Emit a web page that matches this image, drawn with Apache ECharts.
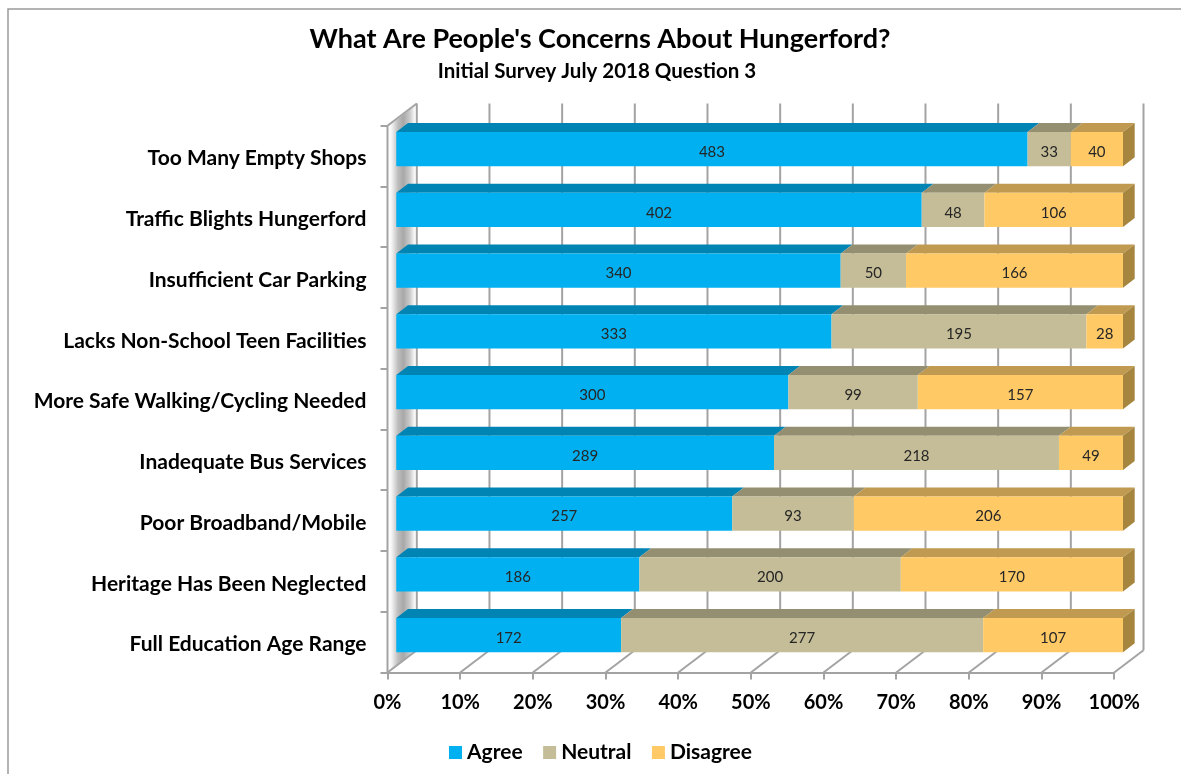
<!DOCTYPE html>
<html>
<head>
<meta charset="utf-8">
<script src="https://cdn.jsdelivr.net/npm/echarts@6/dist/echarts.min.js"></script>
<style>html,body{margin:0;padding:0;background:#fff}#c{width:1181px;height:774px}</style>
</head>
<body>
<div id="c"></div>
<script>
const categories = ['Too Many Empty Shops','Traffic Blights Hungerford','Insufficient Car Parking','Lacks Non-School Teen Facilities','More Safe Walking/Cycling Needed','Inadequate Bus Services','Poor Broadband/Mobile','Heritage Has Been Neglected','Full Education Age Range'];
const agree = [483,402,340,333,300,289,257,186,172];
const neutral = [33,48,50,195,99,218,93,200,277];
const disagree = [40,106,166,28,157,49,206,170,107];
const percentTicks = [0,10,20,30,40,50,60,70,80,90,100];

const FONT = 'Lato';
const WALL = [29.3,-22.2], BAR_OFF = [8.8,-7], BAR_DEPTH = [11.7,-9];
const AXIS_C = '#a3a3a3';
const BAR_H = 34.4;
const G = {left:387.5, top:125.7, width:726.7, height:546.8};
const stacks = [
  {name:'Agree', values:agree, front:'#00B0F0', top:'#0084B4'},
  {name:'Neutral', values:neutral, front:'#C4BD97', top:'#958F71'},
  {name:'Disagree', values:disagree, front:'#FFC966', top:'#BF9A50', side:'#A6853F'}
];
const totals = categories.map((_,i)=>agree[i]+neutral[i]+disagree[i]);
const pct = (v,i)=>v/totals[i]*100;

function wallLines(params, api){
  const cs = params.coordSys, v = api.value(0);
  const x = api.coord([v,0])[0], yb = cs.y+cs.height, yt = cs.y;
  const st = {stroke:AXIS_C, lineWidth:2};
  const kids = [
    {type:'line', shape:{x1:x,y1:yb,x2:x+WALL[0],y2:yb+WALL[1]}, style:st},
    {type:'line', shape:{x1:x+WALL[0],y1:yb+WALL[1],x2:x+WALL[0],y2:yt+WALL[1]}, style:st}
  ];
  if(v===0) kids.push({type:'line', shape:{x1:x,y1:yt,x2:x+WALL[0],y2:yt+WALL[1]}, style:st},
                      {type:'line', shape:{x1:x,y1:yb,x2:x,y2:yt}, style:st});
  return {type:'group', children:kids};
}
function sideWall(params, api){
  const cs = params.coordSys, x = api.coord([0,0])[0]+1.5, yb = cs.y+cs.height-1, yt = cs.y;
  const d = WALL[0]-3, dy = WALL[1]*d/WALL[0];
  return {type:'polygon', shape:{points:[[x,yt],[x+d,yt+dy],[x+d,yb+dy],[x,yb]]},
    style:{fill:new echarts.graphic.LinearGradient(0,0,1,0,[
      {offset:0,color:'#ffffff'},{offset:0.1,color:'#f4f4f4'},{offset:0.35,color:'#bcbcbc'},{offset:0.55,color:'#a8a8a8'},{offset:0.8,color:'#cccccc'},{offset:1,color:'#ffffff'}])}};
}
function faces(stack){
  return function(params, api){
    const i = api.value(2), s = api.value(0), e = api.value(1);
    const a = api.coord([s,i]), b = api.coord([e,i]);
    const y = a[1]-BAR_H/2, dx = BAR_DEPTH[0], dy = BAR_DEPTH[1];
    const kids = [{type:'polygon', shape:{points:[[a[0],y],[b[0],y],[b[0]+dx,y+dy],[a[0]+dx,y+dy]]}, style:{fill:stack.top}}];
    if(stack.side) kids.push({type:'polygon', shape:{points:[[b[0],y],[b[0]+dx,y+dy],[b[0]+dx,y+dy+BAR_H],[b[0],y+BAR_H]]}, style:{fill:stack.side}});
    return {type:'group', children:kids};
  };
}

const chart = echarts.init(document.getElementById('c'), null, {renderer:'canvas'});
let acc = categories.map(()=>0);
const faceSeries = stacks.map(st=>{
  const data = categories.map((_,i)=>{ const s=acc[i]; acc[i]+=pct(st.values[i],i); return [s,acc[i],i]; });
  return {type:'custom', xAxisIndex:1, yAxisIndex:1, z:3, clip:false, silent:true, renderItem:faces(st),
          encode:{x:[0,1], y:2}, data};
});
chart.setOption({
  animation:false,
  backgroundColor:'#ffffff',
  textStyle:{fontFamily:FONT},
  title:[
    {text:"What Are People's Concerns About Hungerford?", left:595, top:21, textAlign:'center',
     textStyle:{fontFamily:FONT,fontWeight:'bold',fontSize:27,color:'#000'}},
    {text:'Initial Survey July 2018 Question 3', left:592, top:56, textAlign:'center',
     textStyle:{fontFamily:FONT,fontWeight:'bold',fontSize:20.5,color:'#000'}}
  ],
  legend:{data:stacks.map(s=>s.name), left:444, top:737, icon:'rect', itemWidth:13, itemHeight:13, itemGap:20.5,
    textStyle:{fontFamily:FONT,fontWeight:'bold',fontSize:21,color:'#000'}},
  graphic:[{type:'rect', shape:{x:8,y:9,width:1400,height:1000}, style:{fill:'none',stroke:'#9a9a9a',lineWidth:1.5}, z:-10, silent:true}],
  grid:[
    {left:G.left, top:G.top, width:G.width, height:G.height},
    {left:G.left+BAR_OFF[0], top:G.top+BAR_OFF[1], width:G.width, height:G.height}
  ],
  xAxis:[
    {type:'value', gridIndex:0, min:0, max:100, interval:10, position:'bottom',
     axisLine:{show:true,lineStyle:{color:AXIS_C,width:2}}, axisTick:{show:true,length:7,lineStyle:{color:AXIS_C,width:2}}, splitLine:{show:false},
     axisLabel:{formatter:'{value}%',margin:20,fontFamily:FONT,fontWeight:'bold',fontSize:20,color:'#000',showMinLabel:true,showMaxLabel:true,customValues:percentTicks}},
    {type:'value', gridIndex:1, min:0, max:100, interval:10, show:false}
  ],
  yAxis:[
    {type:'category', gridIndex:0, data:categories, inverse:true,
     axisLine:{show:false}, axisTick:{show:true,length:7,lineStyle:{color:AXIS_C,width:2}}, splitLine:{show:false},
     axisLabel:{margin:21,fontFamily:FONT,fontWeight:'bold',fontSize:21,color:'#000',verticalAlign:'top',lineHeight:5}},
    {type:'category', gridIndex:1, data:categories, inverse:true, show:false}
  ],
  series:[
    {type:'custom', name:'wall', xAxisIndex:0, yAxisIndex:0, z:1, clip:false, silent:true, renderItem:sideWall, encode:{x:0}, data:[[0]]},
    {type:'custom', name:'gridlines', xAxisIndex:0, yAxisIndex:0, z:2, clip:false, silent:true, renderItem:wallLines, encode:{x:0}, data:percentTicks.map(v=>[v])},
    ...faceSeries,
    ...stacks.map(st=>({
      type:'bar', name:st.name, stack:'total', xAxisIndex:1, yAxisIndex:1, barWidth:BAR_H, z:4,
      itemStyle:{color:st.front},
      label:{show:true, position:'inside', offset:[0,3], fontFamily:FONT, fontSize:15, color:'#262626',
             formatter:p=>String(st.values[p.dataIndex])},
      data:st.values.map((v,i)=>pct(v,i))
    }))
  ]
});
</script>
</body>
</html>
